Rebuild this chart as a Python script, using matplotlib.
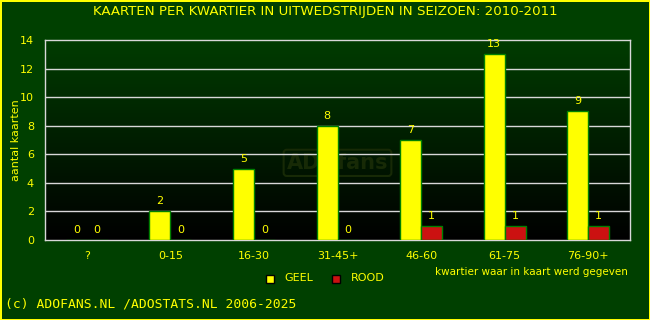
import matplotlib
matplotlib.use("Agg")
import matplotlib.pyplot as plt
import numpy as np
from matplotlib.colors import LinearSegmentedColormap

# data
categories = ["?", "0-15", "16-30", "31-45+", "46-60", "61-75", "76-90+"]
geel = [0, 2, 5, 8, 7, 13, 9]
rood = [0, 0, 0, 0, 1, 1, 1]

BG = "#004000"
YEL = "#ffff00"
RED = "#cc1111"
GRID = "#d8d8d8"

fig = plt.figure(figsize=(6.5, 3.2), dpi=100)
fig.patch.set_facecolor(BG)
fig.patch.set_edgecolor(YEL)
fig.patch.set_linewidth(2)

ax = fig.add_axes([45 / 650, 80 / 320, 585 / 650, 200 / 320])
ax.set_xlim(-0.5, len(categories) - 0.5)
ax.set_ylim(0, 14)

# gradient achtergrond
cmap = LinearSegmentedColormap.from_list("bg", ["#000000", "#003c00"])
grad = np.linspace(0, 1, 256).reshape(-1, 1)
ax.imshow(grad, aspect="auto", cmap=cmap, origin="lower",
          extent=[-0.5, len(categories) - 0.5, 0, 14], zorder=0)

# watermerk
ax.text(3.0, 5.4, "ADOfans", ha="center", va="center", fontsize=15,
        fontweight="bold", color="#172a06", zorder=0.5,
        bbox=dict(boxstyle="round,pad=0.15", facecolor="none",
                  edgecolor="#172a06", linewidth=1.5))

for y in range(2, 14, 2):
    ax.axhline(y, color=GRID, linewidth=1, zorder=1)

x = np.arange(len(categories))
w = 0.25
ax.bar(x - w / 2, geel, width=w, color=YEL, edgecolor="#008000",
       linewidth=1, zorder=3)
ax.bar(x + w / 2, rood, width=w, color=RED, edgecolor="#008000",
       linewidth=1, zorder=3)

for i in range(len(categories)):
    ax.text(x[i] - w / 2, geel[i] + 0.35, str(geel[i]), ha="center",
            va="bottom", color=YEL, fontsize=8, zorder=4)
    ax.text(x[i] + w / 2, rood[i] + 0.35, str(rood[i]), ha="center",
            va="bottom", color=YEL, fontsize=8, zorder=4)

ax.set_xticks(x)
ax.set_xticklabels(categories)
ax.set_yticks(range(0, 15, 2))
ax.tick_params(colors=YEL, labelsize=8, length=0, pad=8)
for s in ax.spines.values():
    s.set_color(GRID)
    s.set_linewidth(1)

ax.set_ylabel("aantal kaarten", color=YEL, fontsize=8)
ax.yaxis.set_label_coords(-24 / 585, 0.5)

fig.text(0.5, 1 - 12 / 320, "KAARTEN PER KWARTIER IN UITWEDSTRIJDEN IN SEIZOEN: 2010-2011",
         ha="center", va="center", color=YEL, fontsize=9.6)

# legenda
fig.patches.append(plt.Rectangle((266 / 650, 1 - 283 / 320), 8 / 650, 8 / 320,
                                 transform=fig.transFigure, facecolor=YEL,
                                 edgecolor="black", linewidth=1))
fig.text(284 / 650, 1 - 278 / 320, "GEEL", color=YEL, fontsize=8, va="center")
fig.patches.append(plt.Rectangle((332 / 650, 1 - 283 / 320), 8 / 650, 8 / 320,
                                 transform=fig.transFigure, facecolor=RED,
                                 edgecolor="black", linewidth=1))
fig.text(351 / 650, 1 - 278 / 320, "ROOD", color=YEL, fontsize=8, va="center")

fig.text(628 / 650, 1 - 272 / 320, "kwartier waar in kaart werd gegeven",
         ha="right", va="center", color=YEL, fontsize=7.5)

fig.text(5 / 650, 1 - 304 / 320, "(c) ADOFANS.NL /ADOSTATS.NL 2006-2025",
         ha="left", va="center", color=YEL, fontsize=9.4, family="DejaVu Sans Mono")

fig.savefig("out.png", dpi=100, facecolor=BG, edgecolor=YEL)
